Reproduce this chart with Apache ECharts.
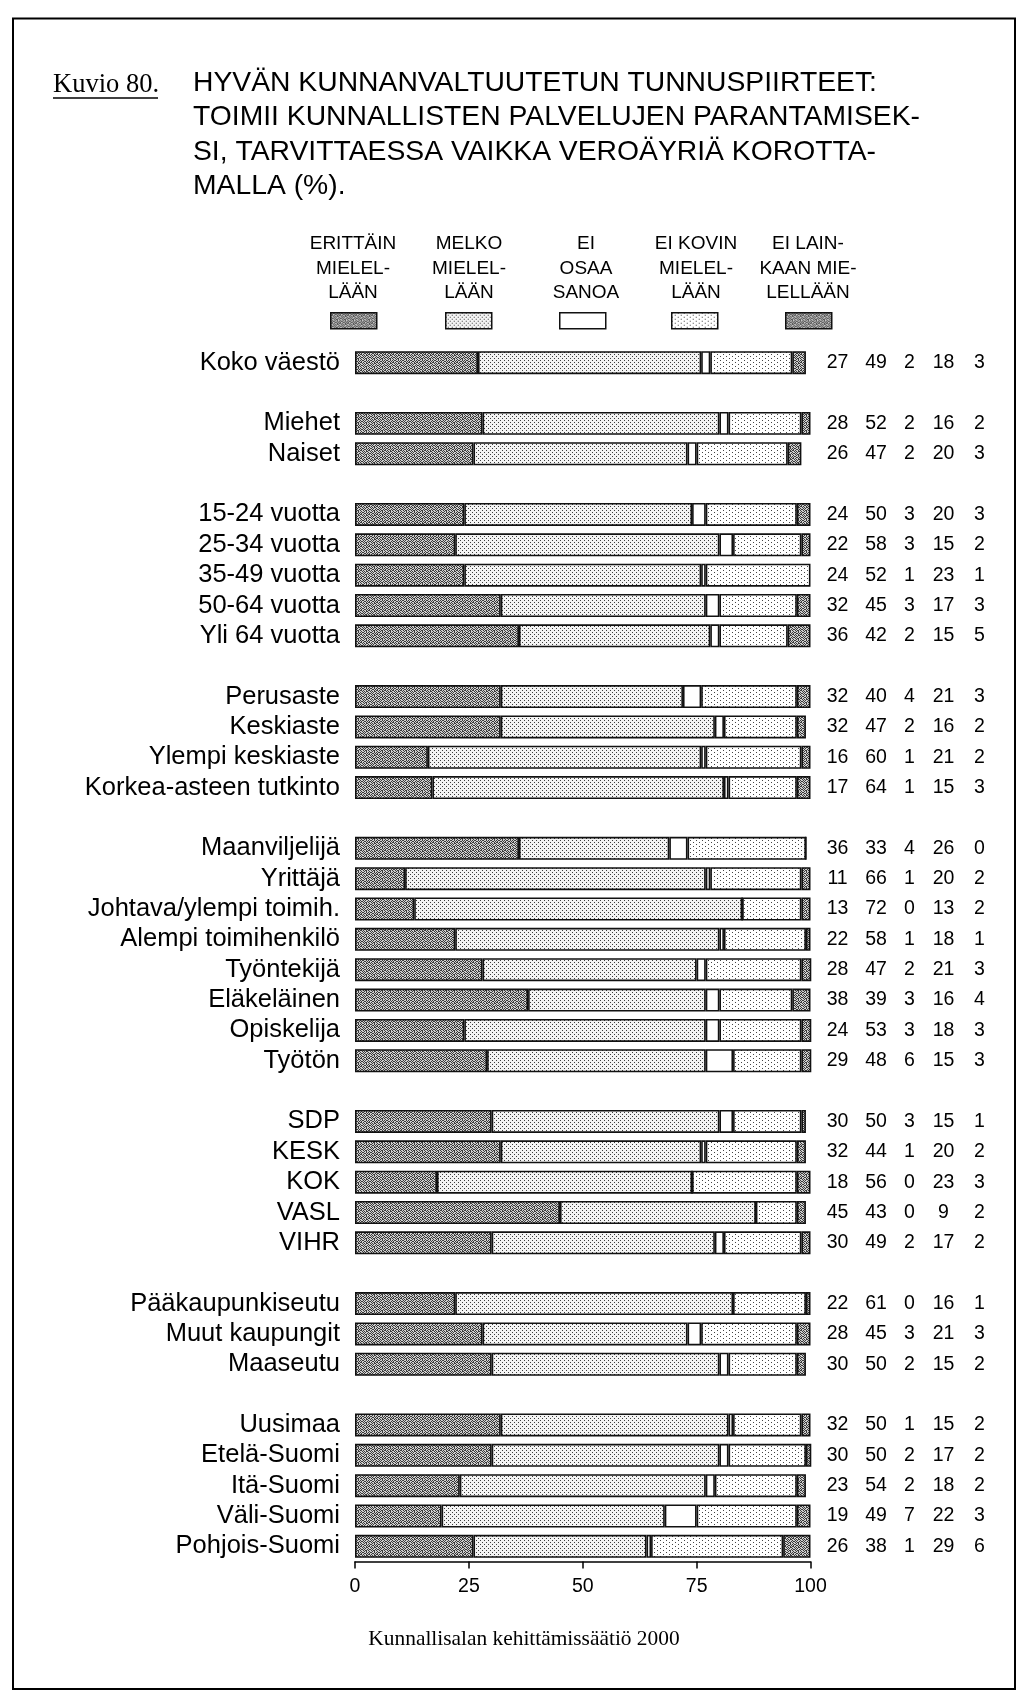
<!DOCTYPE html>
<html>
<head>
<meta charset="utf-8">
<script src="https://cdn.jsdelivr.net/npm/echarts@6/dist/echarts.min.js"></script>
<style>
html,body{margin:0;padding:0;background:#fff;}
#chart{width:1024px;height:1703px;}
</style>
</head>
<body>
<div id="chart"></div>
<script>
// ---- data ----
var categories = ['Koko väestö','', 'Miehet','Naiset','', '15-24 vuotta','25-34 vuotta','35-49 vuotta','50-64 vuotta','Yli 64 vuotta','', 'Perusaste','Keskiaste','Ylempi keskiaste','Korkea-asteen tutkinto','', 'Maanviljelijä','Yrittäjä','Johtava/ylempi toimih.','Alempi toimihenkilö','Työntekijä','Eläkeläinen','Opiskelija','Työtön','', 'SDP','KESK','KOK','VASL','VIHR','', 'Pääkaupunkiseutu','Muut kaupungit','Maaseutu','', 'Uusimaa','Etelä-Suomi','Itä-Suomi','Väli-Suomi','Pohjois-Suomi'];
var erittain   = [27,null,28,26,null,24,22,24,32,36,null,32,32,16,17,null,36,11,13,22,28,38,24,29,null,30,32,18,45,30,null,22,28,30,null,32,30,23,19,26];
var melko      = [49,null,52,47,null,50,58,52,45,42,null,40,47,60,64,null,33,66,72,58,47,39,53,48,null,50,44,56,43,49,null,61,45,50,null,50,50,54,49,38];
var eiOsaa     = [2,null,2,2,null,3,3,1,3,2,null,4,2,1,1,null,4,1,0,1,2,3,3,6,null,3,1,0,0,2,null,0,3,2,null,1,2,2,7,1];
var eiKovin    = [18,null,16,20,null,20,15,23,17,15,null,21,16,21,15,null,26,20,13,18,21,16,18,15,null,15,20,23,9,17,null,16,21,15,null,15,17,18,22,29];
var eiLainkaan = [3,null,2,3,null,3,2,1,3,5,null,3,2,2,3,null,0,2,2,1,3,4,3,3,null,1,2,3,2,2,null,1,3,2,null,2,2,2,3,6];
var seriesNames = ['ERITTÄIN MIELELLÄÄN','MELKO MIELELLÄÄN','EI OSAA SANOA','EI KOVIN MIELELLÄÄN','EI LAINKAAN MIELELLÄÄN'];
var legendLabels = ['ERITTÄIN\nMIELEL-\nLÄÄN','MELKO\nMIELEL-\nLÄÄN','EI\nOSAA\nSANOA','EI KOVIN\nMIELEL-\nLÄÄN','EI LAIN-\nKAAN MIE-\nLELLÄÄN'];
var xTicks = [0,25,50,75,100];
var titleText = 'HYVÄN KUNNANVALTUUTETUN TUNNUSPIIRTEET:\nTOIMII KUNNALLISTEN PALVELUJEN PARANTAMISEK-\nSI, TARVITTAESSA VAIKKA VEROÄYRIÄ KOROTTA-\nMALLA (%).';
var figureLabel = 'Kuvio 80.';
var sourceText = 'Kunnallisalan kehittämissäätiö 2000';

// ---- patterns (style only) ----
function bitmapTile(rows, on, off) {
  var h = rows.length, w = rows[0].length;
  var c = document.createElement('canvas');
  c.width = w; c.height = h;
  var g = c.getContext('2d');
  for (var y = 0; y < h; y++) for (var x = 0; x < w; x++) {
    g.fillStyle = rows[y][x] === '1' ? on : off;
    g.fillRect(x, y, 1, 1);
  }
  return { image: c, repeat: 'repeat' };
}
var darkPat = bitmapTile(['10110010','01001101','11010010','00101011','10010100','01101001','10010110','01001010'], '#3a3a3a', '#cfcfcf');
var melkoPat = bitmapTile(['1000','0000','0010','0000'], '#3c3c3c', '#f4f4f4');
var kovinPat = bitmapTile(['100000','000000','000100','000000'], '#444444', '#ffffff');
var fills = [darkPat, melkoPat, '#ffffff', kovinPat, darkPat];
var seriesData = [erittain, melko, eiOsaa, eiKovin, eiLainkaan];

var SANS = '"Liberation Sans", Arial, Helvetica, sans-serif';
var SERIF = '"Liberation Serif", "Times New Roman", serif';

var legendSwatchX = [353, 468, 582, 694, 808];
var legendTextX = [353, 469, 586, 696, 808];

var series = seriesNames.map(function (n, i) {
  return {
    name: n, type: 'bar', stack: 'all', yAxisIndex: 0, xAxisIndex: 0,
    barWidth: 23,
    data: seriesData[i],
    itemStyle: { color: fills[i], borderColor: '#111', borderWidth: 1.6 },
    emphasis: { disabled: true },
    animation: false
  };
});

var legends = seriesNames.map(function (n, i) {
  return {
    data: [n], left: legendSwatchX[i] - 28, top: 307,
    itemWidth: 46, itemHeight: 16, itemGap: 0,
    icon: 'rect', selectedMode: false,
    formatter: function () { return ''; },
    textStyle: { fontSize: 1 },
    itemStyle: { borderColor: '#111', borderWidth: 1.5 }
  };
});

function numberRow(i) {
  if (erittain[i] === null) return '';
  return '{a|' + erittain[i] + '}{b|' + melko[i] + '}{c|' + eiOsaa[i] + '}{d|' + eiKovin[i] + '}{e|' + eiLainkaan[i] + '}';
}
var numStyle = function (w) { return { width: w, align: 'center', fontSize: 19.5, fontFamily: SANS, color: '#000' }; };

var graphics = [
  { type: 'rect', shape: { x: 13, y: 18.5, width: 1002, height: 1670.5 }, style: { fill: 'none', stroke: '#000', lineWidth: 2 }, z: 0, silent: true },
  { type: 'text', x: 53, y: 85, style: { text: figureLabel, font: '26.5px ' + SERIF, fill: '#000', textAlign: 'left', textVerticalAlign: 'middle' } },
  { type: 'line', shape: { x1: 53, y1: 98, x2: 158, y2: 98 }, style: { stroke: '#000', lineWidth: 1.5 } },
  { type: 'text', x: 193, y: 66, style: { text: titleText, font: '28.3px ' + SANS, fill: '#000', textAlign: 'left', textVerticalAlign: 'top', lineHeight: 34.4 } },
  { type: 'text', x: 524, y: 1639, style: { text: sourceText, font: '21.4px ' + SERIF, fill: '#000', textAlign: 'center', textVerticalAlign: 'middle' } }
];
legendLabels.forEach(function (t, i) {
  graphics.push({ type: 'text', x: legendTextX[i], y: 232, style: { text: t, font: '19px ' + SANS, fill: '#000', textAlign: 'center', textVerticalAlign: 'top', lineHeight: 24.5 } });
});

var option = {
  backgroundColor: '#fff',
  animation: false,
  grid: { left: 355, right: 213.5, top: 347.5, height: 1214, outerBoundsMode: 'none' },
  legend: legends,
  xAxis: {
    type: 'value', min: xTicks[0], max: xTicks[xTicks.length - 1], interval: 25,
    axisLine: { show: true, lineStyle: { color: '#000', width: 1.5 } },
    axisTick: { show: true, inside: false, length: 7, lineStyle: { color: '#000', width: 1.5 } },
    splitLine: { show: false },
    axisLabel: { color: '#000', fontSize: 19.5, fontFamily: SANS, margin: 15 }
  },
  yAxis: [
    {
      type: 'category', data: categories, inverse: true, position: 'left',
      axisLine: { show: false }, axisTick: { show: false }, splitLine: { show: false },
      axisLabel: { interval: 0, color: '#000', fontSize: 25.5, fontFamily: SANS, margin: 15 }
    },
    {
      type: 'category', data: categories, inverse: true, position: 'right',
      axisLine: { show: false }, axisTick: { show: false }, splitLine: { show: false },
      axisLabel: {
        interval: 0, margin: 9, align: 'left',
        formatter: function (v, i) { return numberRow(i); },
        rich: { a: numStyle(36), b: numStyle(41), c: numStyle(26), d: numStyle(42), e: numStyle(30) }
      }
    }
  ],
  series: series,
  graphic: graphics
};

var chart = echarts.init(document.getElementById('chart'), null, { renderer: 'canvas' });
chart.setOption(option);
</script>
</body>
</html>
